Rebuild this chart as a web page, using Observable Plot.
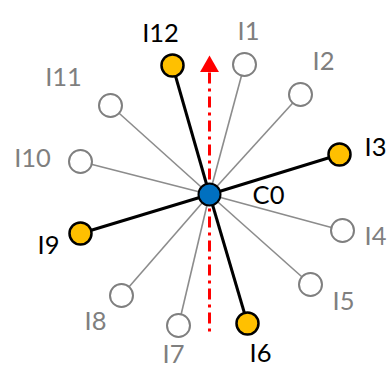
<!DOCTYPE html>
<html><head><meta charset="utf-8">
<script src="https://cdn.jsdelivr.net/npm/d3@7"></script>
<script src="https://cdn.jsdelivr.net/npm/@observablehq/plot@0.6"></script>
<style>body{margin:0;background:#fff}</style>
</head><body><div id="chart"></div>
<script>
// Node data (positions in diagram units, y downward)
const names  = ["I1","I2","I3","I4","I5","I6","I7","I8","I9","I10","I11","I12"];
const nodeX  = [244, 300, 339, 342, 310, 247, 178, 121, 80, 80, 110, 172];
const nodeY  = [64, 94, 154, 230, 284, 323, 325, 295, 233, 161, 105, 65];
const active = [false,false,true,false,false,true,false,false,true,false,false,true];
const labelX = [248, 323, 375, 375, 343, 260, 173, 95, 48, 32, 63, 160];
const labelY = [31, 61, 147, 236, 301, 353, 354, 321, 245, 158, 77, 33];
const centerName = "C0";
const centerX = [209], centerY = [194];
const centerLabelX = [268], centerLabelY = [195];
const arrowX = [209], arrowTop = [72], arrowBottom = [336], arrowTipY = [66];

const nodes = names.map((n,i)=>({name:n,x:nodeX[i],y:nodeY[i],on:active[i],lx:labelX[i],ly:labelY[i]}));
const cx = centerX[0], cy = centerY[0];
const links = nodes.map(d=>({x1:cx,y1:cy,x2:d.x,y2:d.y,on:d.on}));

const plot = Plot.plot({
  width: 390, height: 367,
  margin: 0,
  x: {domain:[0,390], axis:null},
  y: {domain:[0,367], reverse:true, axis:null},
  style: {fontFamily:"Lato, 'Open Sans', sans-serif", background:"#fff"},
  marks: [
    Plot.link(links.filter(d=>!d.on), {x1:"x1",y1:"y1",x2:"x2",y2:"y2",stroke:"#8c8c8c",strokeWidth:1.6}),
    Plot.link([0], {x1:()=>arrowX[0],x2:()=>arrowX[0],y1:()=>arrowTop[0],y2:()=>arrowBottom[0],stroke:"#ff0000",strokeWidth:3,strokeDasharray:"11,5,3,5"}),
    Plot.dot([0], {x:()=>arrowX[0],y:()=>arrowTipY[0],symbol:"triangle",r:7,fill:"#ff0000",stroke:"none"}),
    Plot.link(links.filter(d=>d.on), {x1:"x1",y1:"y1",x2:"x2",y2:"y2",stroke:"#000",strokeWidth:3}),
    Plot.dot(nodes.filter(d=>!d.on), {x:"x",y:"y",r:11.5,fill:"#fff",stroke:"#7f7f7f",strokeWidth:2}),
    Plot.dot(nodes.filter(d=>d.on), {x:"x",y:"y",r:11,fill:"#ffc000",stroke:"#000",strokeWidth:2.5}),
    Plot.dot([0], {x:()=>cx,y:()=>cy,r:11,fill:"#0070c0",stroke:"#000",strokeWidth:2}),
    Plot.text(nodes, {x:"lx",y:"ly",text:"name",fill:d=>d.on?"#000":"#7f7f7f",fontSize:25.5}),
    Plot.text([0], {x:()=>centerLabelX[0],y:()=>centerLabelY[0],text:()=>centerName,fill:"#000",fontSize:25.5})
  ]
});
document.getElementById("chart").appendChild(plot);
</script></body></html>
